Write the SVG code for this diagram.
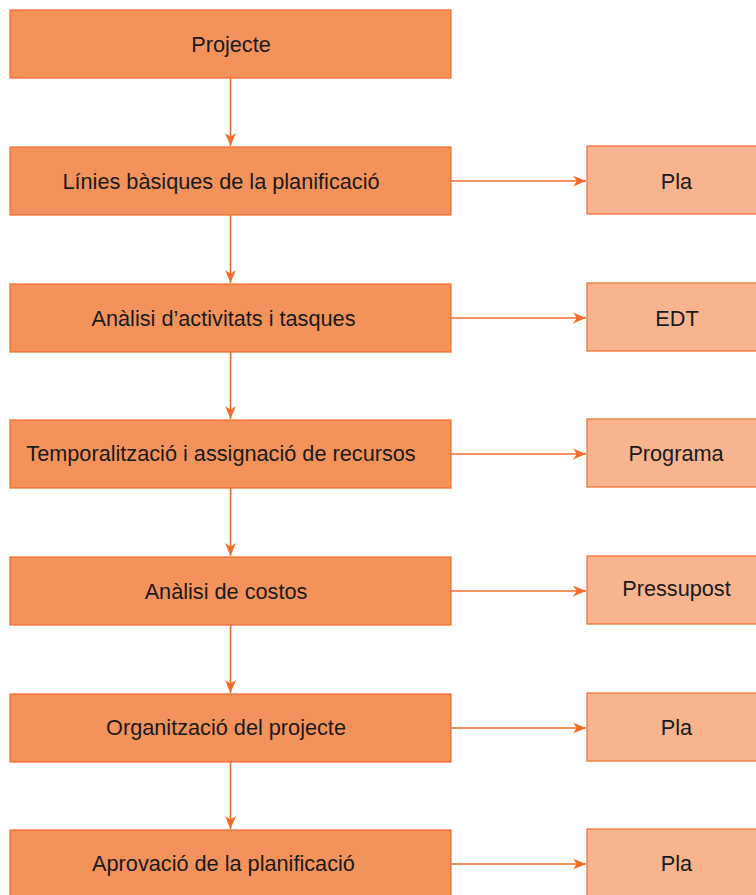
<svg xmlns="http://www.w3.org/2000/svg" width="756" height="895" viewBox="0 0 756 895">
<style>
.main{fill:#F4925C;stroke:#F26B2A;stroke-width:1.2}
.out{fill:#F8B38F;stroke:#F26B2A;stroke-width:1.2}
text{font-family:"Liberation Sans",Arial,sans-serif;font-size:21.7px;fill:#1a1a1a;text-anchor:middle}
.conn line{stroke:#F26B2A;stroke-width:1.6}
</style>
<defs>
<marker id="ah" viewBox="0 0 12 10" refX="12" refY="5" markerWidth="13" markerHeight="11" markerUnits="userSpaceOnUse" orient="auto">
<path d="M0,0 L12,5 L0,10 L3.5,5 Z" fill="#F26B2A"/>
</marker>
</defs>
<rect width="756" height="895" fill="#fff"/>
<g id="n1"><rect class="main" x="10" y="10" width="441" height="68"/><text x="231" y="51.5">Projecte</text></g>
<g id="n2"><rect class="main" x="10" y="147" width="441" height="68"/><text x="221" y="188.5">Línies bàsiques de la planificació</text></g>
<g id="n3"><rect class="main" x="10" y="284" width="441" height="68"/><text x="223.5" y="326">Anàlisi d’activitats i tasques</text></g>
<g id="n4"><rect class="main" x="10" y="420" width="441" height="68"/><text x="221" y="460.5">Temporalització i assignació de recursos</text></g>
<g id="n5"><rect class="main" x="10" y="557" width="441" height="68"/><text x="226" y="598.5">Anàlisi de costos</text></g>
<g id="n6"><rect class="main" x="10" y="694" width="441" height="68"/><text x="226" y="734.5">Organització del projecte</text></g>
<g id="n7"><rect class="main" x="10" y="830" width="441" height="70"/><text x="223.5" y="870.5">Aprovació de la planificació</text></g>
<g id="o2"><rect class="out" x="587" y="146" width="180" height="68"/><text x="676.5" y="188.5">Pla</text></g>
<g id="o3"><rect class="out" x="587" y="283" width="180" height="68"/><text x="677" y="326">EDT</text></g>
<g id="o4"><rect class="out" x="587" y="419" width="180" height="68"/><text x="676" y="460.5">Programa</text></g>
<g id="o5"><rect class="out" x="587" y="556" width="180" height="68"/><text x="676.5" y="596">Pressupost</text></g>
<g id="o6"><rect class="out" x="587" y="693" width="180" height="68"/><text x="676.5" y="734.5">Pla</text></g>
<g id="o7"><rect class="out" x="587" y="829" width="180" height="70"/><text x="676.5" y="870.5">Pla</text></g>
<g id="connectors" class="conn">
<line x1="230.5" y1="78" x2="230.5" y2="146" marker-end="url(#ah)"/>
<line x1="230.5" y1="215" x2="230.5" y2="283" marker-end="url(#ah)"/>
<line x1="230.5" y1="352" x2="230.5" y2="419" marker-end="url(#ah)"/>
<line x1="230.5" y1="488" x2="230.5" y2="556" marker-end="url(#ah)"/>
<line x1="230.5" y1="625" x2="230.5" y2="693" marker-end="url(#ah)"/>
<line x1="230.5" y1="762" x2="230.5" y2="829" marker-end="url(#ah)"/>
<line x1="451" y1="181" x2="586" y2="181" marker-end="url(#ah)"/>
<line x1="451" y1="318" x2="586" y2="318" marker-end="url(#ah)"/>
<line x1="451" y1="454" x2="586" y2="454" marker-end="url(#ah)"/>
<line x1="451" y1="591" x2="586" y2="591" marker-end="url(#ah)"/>
<line x1="451" y1="728" x2="586" y2="728" marker-end="url(#ah)"/>
<line x1="451" y1="864" x2="586" y2="864" marker-end="url(#ah)"/>
</g>
</svg>
